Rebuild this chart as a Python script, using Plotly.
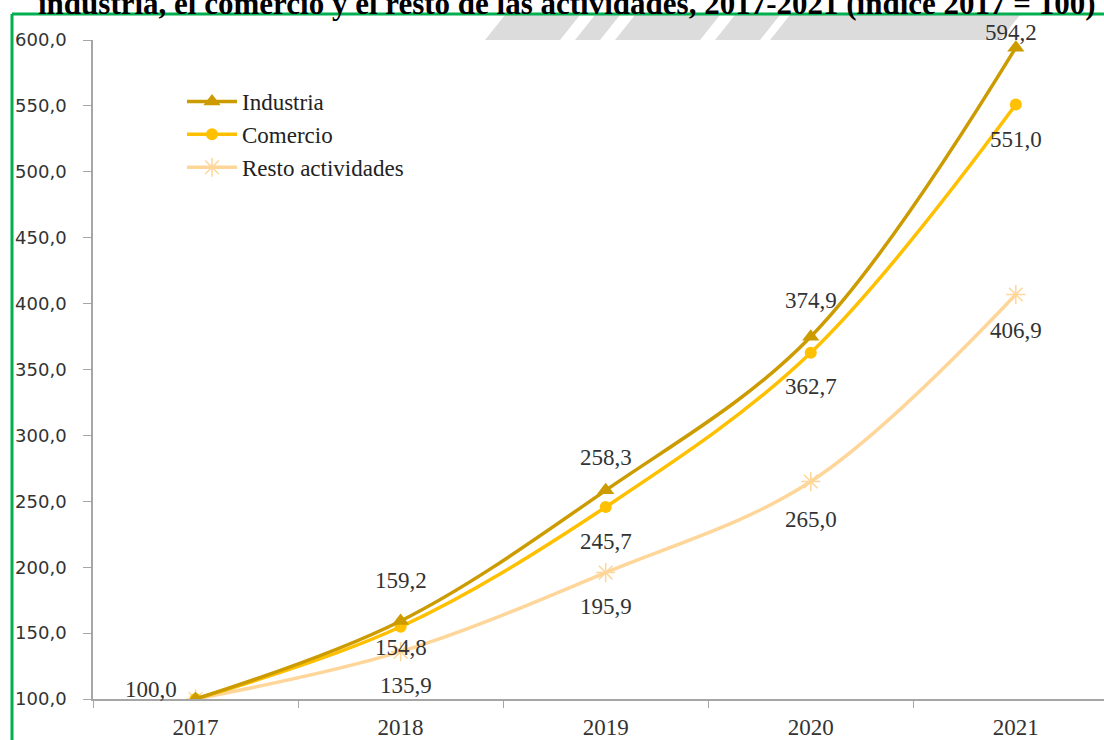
import plotly.graph_objects as go

years = ["2017", "2018", "2019", "2020", "2021"]
industria = [100.0, 159.2, 258.3, 374.9, 594.2]
comercio = [100.0, 154.8, 245.7, 362.7, 551.0]
resto = [100.0, 135.9, 195.9, 265.0, 406.9]
ytick_vals = [100, 150, 200, 250, 300, 350, 400, 450, 500, 550, 600]
ytick_text = ["100,0", "150,0", "200,0", "250,0", "300,0", "350,0", "400,0", "450,0", "500,0", "550,0", "600,0"]
title_text = "industria, el comercio y el resto de las actividades, 2017-2021 (índice 2017 = 100)"

C_IND = "#CC9B00"
C_COM = "#FFC000"
C_RES = "#FFD699"
SERIF = "Liberation Serif"
W, H = 1104, 740
L, T, B = 93, 40, 41
pw = W - L
ph = H - T - B


def fmt(v):
    return f"{v:.1f}".replace(".", ",")


fig = go.Figure()
fig.add_trace(go.Scatter(x=years, y=resto, name="Resto actividades", mode="lines+markers",
                         line=dict(color=C_RES, width=3.5, shape="spline", smoothing=1),
                         marker=dict(symbol="asterisk-open", size=16, line=dict(color=C_RES, width=1.5))))
fig.add_trace(go.Scatter(x=years, y=comercio, name="Comercio", mode="lines+markers",
                         line=dict(color=C_COM, width=3.5, shape="spline", smoothing=1),
                         marker=dict(symbol="circle", size=12, color=C_COM)))
fig.add_trace(go.Scatter(x=years, y=industria, name="Industria", mode="lines+markers",
                         line=dict(color=C_IND, width=3.5, shape="spline", smoothing=1),
                         marker=dict(symbol="triangle-up", size=15, color=C_IND)))

ann = []
lab_font = dict(family=SERIF, size=23, color="#333333")
ind_shift = [(-45, 10), (0, 40), (0, 33), (0, 36), (-5, 15)]
com_shift = [None, (0, -21), (0, -35), (0, -34), (0, -35)]
res_shift = [None, (5, -34), (0, -34), (0, -38), (0, -36)]
for series, shifts in ((industria, ind_shift), (comercio, com_shift), (resto, res_shift)):
    for i, (yv, s) in enumerate(zip(series, shifts)):
        if s is None:
            continue
        ann.append(dict(x=i, y=yv, xref="x", yref="y", text=fmt(yv), showarrow=False,
                        xshift=s[0], yshift=s[1], font=lab_font))

# title (cropped at top)
ann.append(dict(x=(567 - L) / pw, y=(H - B - 3) / ph, xref="paper", yref="paper",
                text="<b>" + title_text + "</b>", showarrow=False, yanchor="middle",
                font=dict(family=SERIF, size=31, color="#000000")))


def px_x(p):
    return (p - L) / pw


def px_y(p):
    return (H - B - p) / ph


shapes = []
# watermark stripes
gray = "#DCDCDC"
wm = [(485, 560), (575, 600), (615, 700), (715, 760), (770, 1000)]
for a, b in wm:
    shapes.append(dict(type="path", xref="paper", yref="paper", layer="below",
                       path=f"M {px_x(a + 20)} {px_y(15)} L {px_x(b + 20)} {px_y(15)} L {px_x(b)} {px_y(40)} L {px_x(a)} {px_y(40)} Z",
                       fillcolor=gray, line=dict(width=0)))
# green border
shapes.append(dict(type="line", xref="paper", yref="paper", x0=px_x(12), x1=px_x(12), y0=px_y(14), y1=px_y(745),
                   line=dict(color="#00B050", width=3)))
shapes.append(dict(type="line", xref="paper", yref="paper", x0=px_x(12), x1=px_x(1110), y0=px_y(14), y1=px_y(14),
                   line=dict(color="#00B050", width=3)))

fig.update_layout(
    width=W, height=H,
    margin=dict(l=L, r=0, t=T, b=B),
    paper_bgcolor="white", plot_bgcolor="white",
    showlegend=True,
    legend=dict(x=px_x(182), y=px_y(80), xanchor="left", yanchor="top", traceorder="reversed",
                font=dict(family=SERIF, size=23, color="#222222"), bgcolor="rgba(0,0,0,0)",
                itemwidth=50, tracegroupgap=0),
    annotations=ann,
    shapes=shapes,
    xaxis=dict(type="category", range=[-0.5, 4.43], tickson="boundaries", ticks="outside", ticklen=7,
               tickcolor="#A6A6A6", showline=True, linecolor="#A6A6A6", linewidth=1.5, showgrid=False,
               tickfont=dict(family=SERIF, size=23, color="#333333"), zeroline=False,
               ticklabelstandoff=7),
    yaxis=dict(range=[100, 600], tickvals=ytick_vals, ticktext=ytick_text, ticks="outside", ticklen=8,
               tickcolor="#A6A6A6", showline=True, linecolor="#A6A6A6", linewidth=1.5, showgrid=False,
               tickfont=dict(family="DejaVu Sans", size=18, color="#333333"), zeroline=False,
               ticklabelstandoff=13),
)

fig.write_html("out.html")
